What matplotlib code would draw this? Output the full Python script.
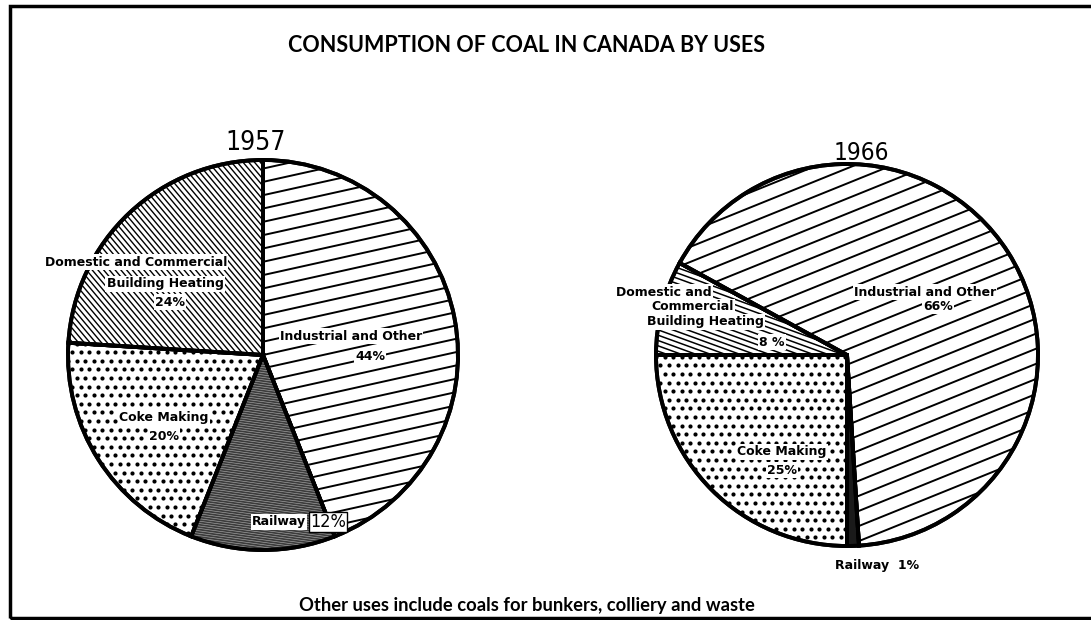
"""
Consumption of coal in Canada by uses, 1957 vs 1966 — two hatched pies
in the style of the printed black-and-white original.
"""

import matplotlib
matplotlib.use("Agg")
import matplotlib.pyplot as plt
import numpy as np
from matplotlib.collections import LineCollection
from matplotlib.patches import Rectangle, Wedge

# ---- data -------------------------------------------------------------
USES_1957 = ["Industrial and Other", "Railway", "Coke Making",
             "Domestic and Commercial Building Heating"]
SHARE_1957 = [44, 12, 20, 24]          # clockwise from the top

USES_1966 = ["Domestic and Commercial Building Heating", "Industrial and Other",
             "Railway", "Coke Making"]
SHARE_1966 = [8, 66, 1, 25]            # clockwise from the left

TITLE = "CONSUMPTION OF COAL IN CANADA BY USES"
NOTE = "Other uses include coals for bunkers, colliery and waste"

W, H = 1091, 620
FONT = ["Lato", "DejaVu Sans"]
LABEL_FONT = ["DejaVu Sans"]


def py(y):
    """Pixel row (from top) -> data y (from bottom)."""
    return H - y


def hatch_lines(ax, wedge, angle, spacing, lw, color="black"):
    cx, cy = wedge.center
    r = wedge.r
    a = np.deg2rad(angle)
    u = np.array([np.cos(a), np.sin(a)])
    n = np.array([-np.sin(a), np.cos(a)])
    c = np.array([cx, cy])
    segs = [[c + d * n - r * u, c + d * n + r * u]
            for d in np.arange(-r, r + spacing, spacing)]
    lc = LineCollection(segs, colors=color, linewidths=lw, zorder=2)
    ax.add_collection(lc)
    lc.set_clip_path(wedge)


def hatch_dots(ax, wedge, step, size):
    cx, cy = wedge.center
    r = wedge.r
    xs, ys = [], []
    for i, y in enumerate(np.arange(cy - r, cy + r, step)):
        off = (step / 2) * (i % 2)
        for x in np.arange(cx - r + off, cx + r, step):
            xs.append(x)
            ys.append(y)
    sc = ax.scatter(xs, ys, s=size, c="black", linewidths=0, zorder=2)
    sc.set_clip_path(wedge)


def outline(ax, wedge, lw):
    ax.add_patch(Wedge(wedge.center, wedge.r, wedge.theta1, wedge.theta2,
                       fill=False, edgecolor="black", linewidth=lw,
                       joinstyle="miter", zorder=3))


def label(ax, x, y, s, size=9, **kw):
    box = kw.pop("box", dict(facecolor="white", edgecolor="none", pad=0.8))
    ax.text(x, py(y), s, fontsize=size, fontweight="bold", family=LABEL_FONT,
            ha=kw.pop("ha", "center"), va="center", zorder=4, bbox=box, **kw)


def year(ax, x, y, s, size):
    t = ax.text(x, py(y), s, fontsize=size, family=["DejaVu Sans"],
                fontstretch="condensed", ha="center", va="center")
    return t


fig = plt.figure(figsize=(W / 100, H / 100), dpi=100)
ax = fig.add_axes([0, 0, 1, 1])

# ---- 1957 -------------------------------------------------------------
c57, r57 = (263, py(355)), 195
w57, _ = ax.pie(SHARE_1957, startangle=90, counterclock=False,
                center=c57, radius=r57, frame=True, colors=["white"] * 4,
                wedgeprops=dict(edgecolor="black", linewidth=2.8))
w57[1].set_facecolor("#3c3c3c")
hatch_lines(ax, w57[0], 12.5, 13, 1.4)
hatch_lines(ax, w57[1], -8, 2.4, 0.45, color="#a8a8a8")
hatch_dots(ax, w57[2], 8.6, 9)
hatch_lines(ax, w57[3], -50, 4.4, 1.0)
for w in w57:
    outline(ax, w, 2.8)

# ---- 1966 -------------------------------------------------------------
c66, r66 = (847, py(355)), 191
w66, _ = ax.pie(SHARE_1966, startangle=180, counterclock=False,
                center=c66, radius=r66, frame=True, colors=["white"] * 4,
                wedgeprops=dict(edgecolor="black", linewidth=2.8))
w66[2].set_facecolor("#1a1a1a")
hatch_lines(ax, w66[0], -20, 5.0, 1.1)
hatch_lines(ax, w66[1], 22, 14, 1.4)
hatch_dots(ax, w66[3], 8.6, 9)
for w in w66:
    outline(ax, w, 2.8)

# ---- labels -----------------------------------------------------------
label(ax, 136, 262, "Domestic and Commercial")
label(ax, 165, 284, "Building Heating")
label(ax, 170, 302, f"{SHARE_1957[3]}%")
label(ax, 351, 336, USES_1957[0])
label(ax, 370, 357, f"{SHARE_1957[0]}%")
label(ax, 164, 418, USES_1957[2])
label(ax, 164, 436, f"{SHARE_1957[2]}%")
label(ax, 279, 522, USES_1957[1], size=9)
ax.text(328, py(522), f"{SHARE_1957[1]}%", fontsize=13, family=["DejaVu Sans"],
        fontstretch="condensed", ha="center", va="center", zorder=4,
        bbox=dict(facecolor="white", edgecolor="black", linewidth=1, pad=1))

label(ax, 664, 292, "Domestic and")
label(ax, 693, 307, "Commercial")
label(ax, 705, 322, "Building Heating")
label(ax, 772, 342, f"{SHARE_1966[0]} %")
label(ax, 925, 292, USES_1966[1])
label(ax, 938, 306, f"{SHARE_1966[1]}%")
label(ax, 782, 452, USES_1966[3])
label(ax, 782, 470, f"{SHARE_1966[3]}%")
label(ax, 877, 566, f"{USES_1966[2]}  {SHARE_1966[2]}%")

year(ax, 256, 143, "1957", 19)
year(ax, 861, 153, "1966", 17.5)

ax.text(527, py(46), TITLE, fontsize=15.5, family=FONT, fontweight="bold",
        ha="center", va="center")
ax.text(527, py(605), NOTE, fontsize=13.2, family=FONT, fontweight="bold",
        ha="center", va="center")

ax.set_xlim(0, W)
ax.set_ylim(0, H)
ax.set_aspect("equal")
ax.axis("off")

fig.add_artist(Rectangle((10 / W, 2 / H), 1.2, (H - 8) / H,
                         transform=fig.transFigure, fill=False,
                         edgecolor="black", linewidth=2.5))

fig.savefig("out.png", dpi=100)
